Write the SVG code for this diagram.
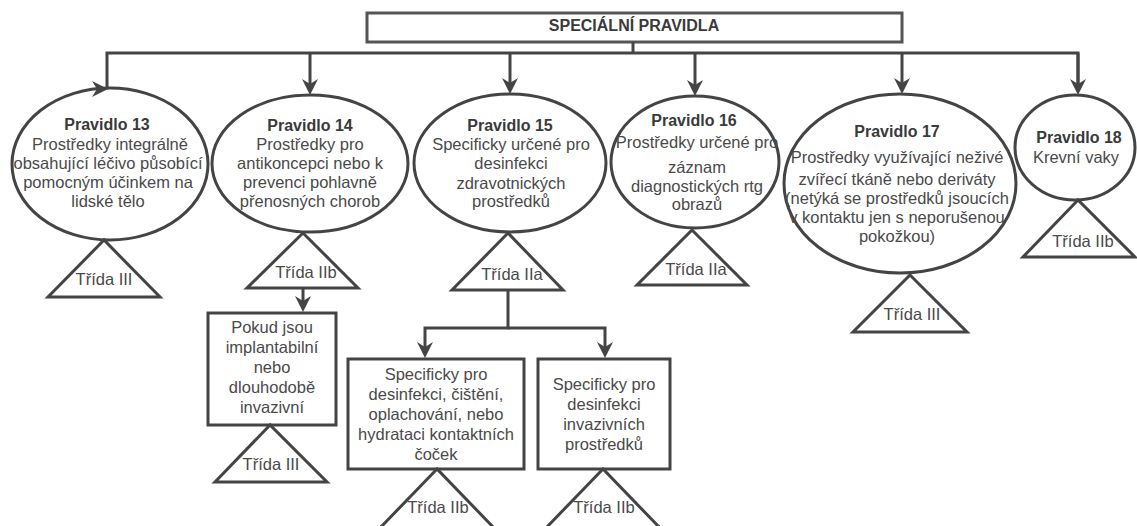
<svg xmlns="http://www.w3.org/2000/svg" width="1137" height="526" viewBox="0 0 1137 526">
  <defs>
    <marker id="arrow" markerUnits="userSpaceOnUse" markerWidth="18" markerHeight="18" refX="8" refY="8" orient="auto" overflow="visible">
      <path d="M0,0 L16,8 L0,16 L5,8 Z" fill="#444"/>
    </marker>
    <style>
      .shape { fill: #fff; stroke: #444; stroke-width: 3; }
      .box { fill: #fff; stroke: #555; stroke-width: 3; }
      .edge { fill: none; stroke: #444; stroke-width: 3; }
      .arr { marker-end: url(#arrow); }
      text { font-family: "Liberation Sans", Arial, Helvetica, sans-serif; text-anchor: middle; }
      .t { font-size: 16.5px; fill: #4a4a4a; }
      .b { font-size: 16px; font-weight: bold; fill: #3a3a3a; }
    </style>
  </defs>
  <rect width="1137" height="526" fill="#fff"/>

  <!-- title -->
  <g id="title">
    <rect class="box" x="367" y="13" width="535" height="29"/>
    <text class="b" x="634" y="30.5">SPECIÁLNÍ PRAVIDLA</text>
  </g>

  <!-- rule 13 -->
  <g id="rule13">
    <ellipse class="shape" cx="110" cy="164" rx="98" ry="76"/>
    <text class="b" x="107" y="130">Pravidlo 13</text>
    <text class="t" x="110" y="149.5">Prostředky integrálně</text>
    <text class="t" x="108" y="168.5">obsahující léčivo působící</text>
    <text class="t" x="108" y="188">pomocným účinkem na</text>
    <text class="t" x="108" y="207">lidské tělo</text>
  </g>
  <g id="class13">
    <polygon class="shape" points="104,240 48,297 160,297"/>
    <text class="t" x="104" y="285">Třída III</text>
  </g>

  <!-- rule 14 -->
  <g id="rule14">
    <ellipse class="shape" cx="310" cy="163.5" rx="98" ry="68.5"/>
    <text class="b" x="310" y="130.5">Pravidlo 14</text>
    <text class="t" x="310" y="150">Prostředky pro</text>
    <text class="t" x="310" y="169">antikoncepci nebo k</text>
    <text class="t" x="310" y="188">prevenci pohlavně</text>
    <text class="t" x="310" y="207">přenosných chorob</text>
  </g>
  <g id="class14">
    <polygon class="shape" points="303,233 247,288 358,288"/>
    <text class="t" x="306" y="278">Třída IIb</text>
  </g>
  <g id="rule14-implant">
    <rect class="shape" x="208" y="313" width="128" height="112"/>
    <text class="t" x="272" y="333">Pokud jsou</text>
    <text class="t" x="272" y="353">implantabilní</text>
    <text class="t" x="272" y="373">nebo</text>
    <text class="t" x="272" y="393">dlouhodobě</text>
    <text class="t" x="272" y="413">invazivní</text>
  </g>
  <g id="class14-implant">
    <polygon class="shape" points="270,425 215,482 327,482"/>
    <text class="t" x="271" y="470">Třída III</text>
  </g>

  <!-- rule 15 -->
  <g id="rule15">
    <ellipse class="shape" cx="510" cy="163" rx="96" ry="69"/>
    <text class="b" x="510" y="130.5">Pravidlo 15</text>
    <text class="t" x="511" y="149.5">Specificky určené pro</text>
    <text class="t" x="511" y="169">desinfekci</text>
    <text class="t" x="511" y="188.5">zdravotnických</text>
    <text class="t" x="511" y="207">prostředků</text>
  </g>
  <g id="class15">
    <polygon class="shape" points="508,233 452,290 563,290"/>
    <text class="t" x="512" y="280">Třída IIa</text>
  </g>
  <g id="rule15-lens">
    <rect class="shape" x="348" y="359" width="176" height="110"/>
    <text class="t" x="436" y="379.5">Specificky pro</text>
    <text class="t" x="436" y="399.5">desinfekci, čištění,</text>
    <text class="t" x="436" y="419.5">oplachování, nebo</text>
    <text class="t" x="436" y="439.5">hydrataci kontaktních</text>
    <text class="t" x="436" y="459.5">čoček</text>
  </g>
  <g id="class15-lens">
    <polygon class="shape" points="437,469 379,529 495,529"/>
    <text class="t" x="438" y="513">Třída IIb</text>
  </g>
  <g id="rule15-invasive">
    <rect class="shape" x="538" y="359" width="132" height="110"/>
    <text class="t" x="604" y="389.5">Specificky pro</text>
    <text class="t" x="604" y="409.5">desinfekci</text>
    <text class="t" x="604" y="429.5">invazivních</text>
    <text class="t" x="604" y="449.5">prostředků</text>
  </g>
  <g id="class15-invasive">
    <polygon class="shape" points="603,469 545,529 661,529"/>
    <text class="t" x="604" y="513">Třída IIb</text>
  </g>

  <!-- rule 16 -->
  <g id="rule16">
    <ellipse class="shape" cx="695" cy="162" rx="84" ry="66"/>
    <text class="b" x="694" y="126">Pravidlo 16</text>
    <text class="t" x="697" y="148">Prostředky určené pro</text>
    <text class="t" x="697" y="173">záznam</text>
    <text class="t" x="697" y="192">diagnostických rtg</text>
    <text class="t" x="697" y="210">obrazů</text>
  </g>
  <g id="class16">
    <polygon class="shape" points="692,230 637,285 747,285"/>
    <text class="t" x="696" y="275">Třída IIa</text>
  </g>

  <!-- rule 17 -->
  <g id="rule17">
    <ellipse class="shape" cx="900" cy="183.5" rx="116" ry="89.5"/>
    <text class="b" x="897" y="137">Pravidlo 17</text>
    <text class="t" x="897" y="163">Prostředky využívající neživé</text>
    <text class="t" x="897" y="185">zvířecí tkáně nebo deriváty</text>
    <text class="t" x="897" y="204">(netýká se prostředků jsoucích</text>
    <text class="t" x="897" y="223">v kontaktu jen s neporušenou</text>
    <text class="t" x="897" y="242">pokožkou)</text>
  </g>
  <g id="class17">
    <polygon class="shape" points="910,275 853,332 967,332"/>
    <text class="t" x="912" y="320">Třída III</text>
  </g>

  <!-- rule 18 -->
  <g id="rule18">
    <ellipse class="shape" cx="1075" cy="147.5" rx="60" ry="52.5"/>
    <text class="b" x="1079" y="143">Pravidlo 18</text>
    <text class="t" x="1076" y="163">Krevní vaky</text>
  </g>
  <g id="class18">
    <polygon class="shape" points="1078,200 1023,257 1135,257"/>
    <text class="t" x="1083" y="247">Třída IIb</text>
  </g>

  <!-- connectors, drawn last so arrowheads sit over the outlines -->
  <g id="connectors">
    <path class="edge" d="M633 42 V53"/>
    <path class="edge" d="M633 53 H107 V88"/>
    <path d="M92 81 L108 89 L92 97 L97 89 Z" fill="#444"/>
    <path class="edge" d="M633 53 H1078 V87"/>
    <path class="edge arr" d="M310 53 V87"/>
    <path class="edge arr" d="M510 53 V86"/>
    <path class="edge arr" d="M695 53 V88"/>
    <path class="edge arr" d="M902 53 V86"/>
    <path class="edge arr" d="M1078 53 V87"/>
    <path class="edge arr" d="M303 288 V304"/>
    <path class="edge arr" d="M508 290 V328 H425 V350"/>
    <path class="edge arr" d="M508 328 H605 V350"/>
  </g>
</svg>
